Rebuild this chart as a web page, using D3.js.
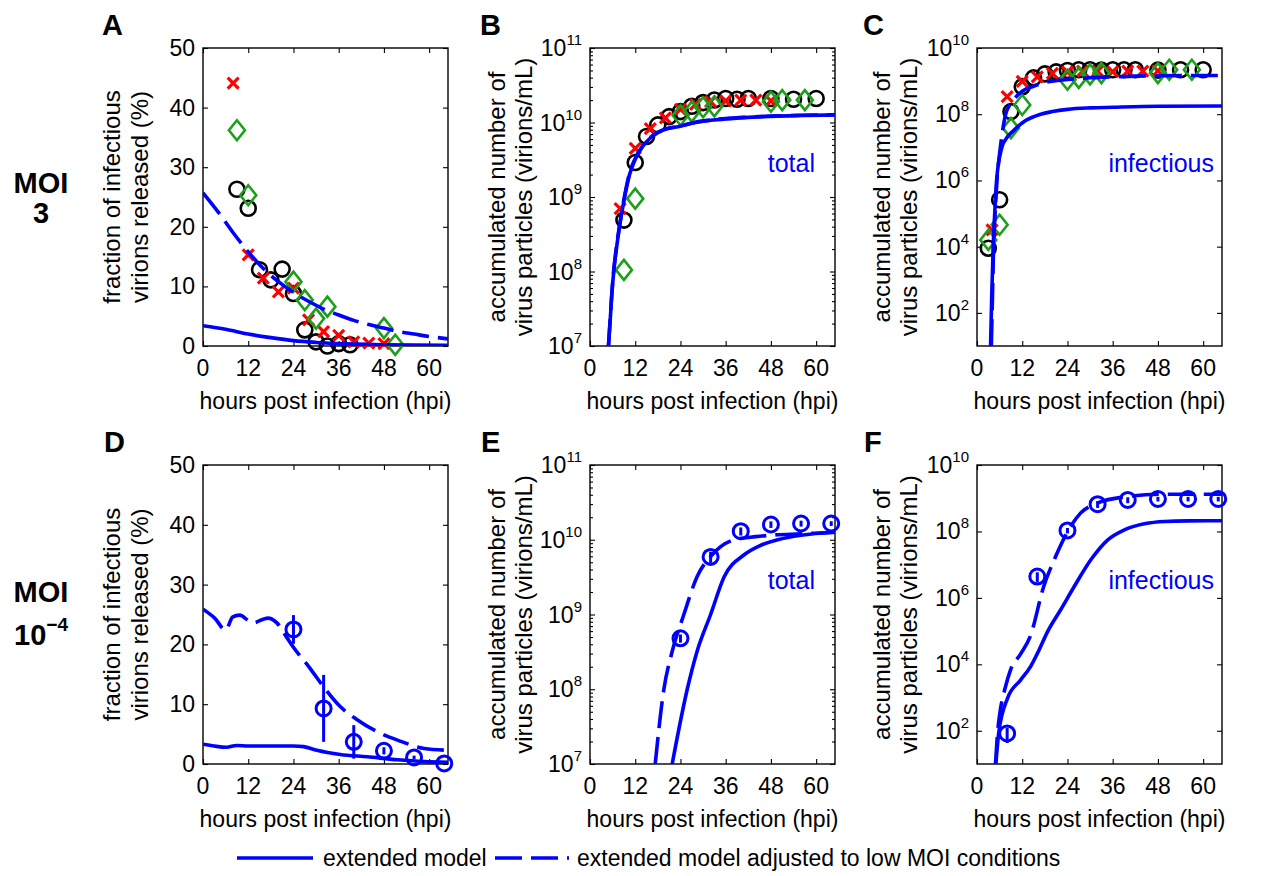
<!DOCTYPE html>
<html>
<head>
<meta charset="utf-8">
<script src="https://cdn.jsdelivr.net/npm/d3@7"></script>
<style>
  body { margin: 0; background: #fff; }
  svg text { font-family: "Liberation Sans", Arial, Helvetica, sans-serif; fill: #000; }
</style>
</head>
<body>
<script>
// shared ticks
var hourTicks = [0, 12, 24, 36, 48, 60];
var pctTicks = [0, 10, 20, 30, 40, 50];
var totalTicks = [1e7, 1e8, 1e9, 1e10, 1e11];
var infTicks = [1e2, 1e4, 1e6, 1e8, 1e10];

// panel A (MOI 3, fraction infectious, %)
var aCircleHours = [9, 12, 15, 18, 21, 24, 27, 30, 33, 36, 39];
var aCircleValues = [26.3, 23.1, 12.8, 11.1, 12.9, 8.8, 2.7, 0.7, 0.0, 0.4, 0.2];
var aCrossHours = [8, 12, 16, 20, 24, 28, 32, 36, 40, 44, 48];
var aCrossValues = [44.1, 15.3, 11.4, 9.1, 9.7, 4.4, 2.4, 1.8, 0.7, 0.5, 0.4];
var aDiamondHours = [9, 12, 24, 27, 30, 33, 48, 51];
var aDiamondValues = [36.2, 25.3, 10.8, 7.7, 4.6, 6.6, 3.0, 0.2];
var aSolidHours = [0, 6, 12, 18, 24, 30, 36, 48, 65];
var aSolidValues = [3.4, 2.8, 2.0, 1.4, 0.9, 0.6, 0.4, 0.2, 0.1];
var aDashHours = [0, 4, 8, 12, 16, 20, 24, 28, 32, 36, 40, 44, 48, 52, 56, 60, 65];
var aDashValues = [25.7, 22.5, 19.0, 15.8, 13.0, 10.8, 9.0, 7.5, 6.2, 5.2, 4.3, 3.6, 3.0, 2.4, 2.0, 1.6, 1.2];

// panel B (MOI 3, total particles)
var bCircleHours = [9, 12, 15, 18, 21, 24, 27, 30, 33, 36, 39, 42, 48, 54, 60];
var bCircleValues = [4.9e8, 2.9e9, 6.5e9, 9.3e9, 1.2e10, 1.4e10, 1.65e10, 1.85e10, 2.0e10, 2.1e10, 2.05e10, 2.1e10, 2.1e10, 2.05e10, 2.1e10];
var bCrossHours = [8, 12, 16, 20, 24, 28, 32, 36, 40, 44, 48];
var bCrossValues = [7e8, 4.5e9, 8.3e9, 1.15e10, 1.5e10, 1.75e10, 1.9e10, 1.95e10, 2.0e10, 2.0e10, 1.95e10];
var bDiamondHours = [9, 12, 24, 27, 30, 33, 48, 51, 57];
var bDiamondValues = [1.05e8, 9.5e8, 1.25e10, 1.4e10, 1.6e10, 1.65e10, 1.9e10, 2.0e10, 2.0e10];
var bSolidHours = [4.9, 5.3, 5.8, 6.3, 7, 8, 9.2, 10.5, 12, 14, 16, 18, 20, 24, 28, 32, 36, 42, 48, 56, 65];
var bSolidValues = [1e7, 2e7, 5e7, 1e8, 2e8, 4.5e8, 1e9, 2e9, 3.2e9, 4.8e9, 6.2e9, 7.3e9, 8.1e9, 8.9e9, 1.0e10, 1.07e10, 1.12e10, 1.17e10, 1.21e10, 1.24e10, 1.26e10];
var bDashHours = [4.9, 5.3, 5.8, 6.3, 7, 8, 9.2, 10.5, 12, 14, 16, 18, 20, 24, 28, 32, 36, 42, 48, 56, 65];
var bDashValues = [1e7, 2.1e7, 5.2e7, 1.05e8, 2.1e8, 4.7e8, 1.05e9, 2.1e9, 3.3e9, 4.9e9, 6.3e9, 7.4e9, 8.2e9, 9.0e9, 1.01e10, 1.08e10, 1.13e10, 1.18e10, 1.22e10, 1.25e10, 1.27e10];

// panel C (MOI 3, infectious particles)
var cCircleHours = [3, 6, 9, 12, 15, 18, 21, 24, 27, 30, 33, 36, 39, 42, 48, 54, 60];
var cCircleValues = [9e3, 2.6e5, 1.2e8, 6.8e8, 1.25e9, 1.65e9, 1.9e9, 2.1e9, 2.2e9, 2.2e9, 2.15e9, 2.2e9, 2.2e9, 2.2e9, 2.15e9, 2.2e9, 2.2e9];
var cCrossHours = [4, 8, 12, 16, 20, 24, 28, 32, 36, 40, 44, 48];
var cCrossValues = [3.2e4, 3.4e8, 9.8e8, 1.35e9, 1.7e9, 1.9e9, 2.0e9, 2.0e9, 1.95e9, 2.0e9, 2.0e9, 2.05e9];
var cDiamondHours = [3, 6, 9, 12, 24, 27, 30, 33, 48, 51, 57];
var cDiamondValues = [1.6e4, 4.6e4, 3.8e7, 1.9e8, 1.1e9, 1.25e9, 1.6e9, 1.75e9, 1.75e9, 2.2e9, 2.2e9];
var cSolidHours = [3.6, 3.9, 4.3, 4.7, 5.2, 6.6, 8, 9.7, 12.8, 16.9, 20, 24, 30, 36, 48, 65];
var cSolidValues = [1e1, 3e2, 1e4, 1e5, 1e6, 1e7, 2e7, 3.2e7, 6.3e7, 1e8, 1.2e8, 1.4e8, 1.55e8, 1.62e8, 1.74e8, 1.78e8];
var cDashHours = [3.8, 4.1, 4.4, 4.8, 5.3, 6.2, 7.6, 8.8, 10.2, 12, 15, 18, 24, 30, 36, 48, 65];
var cDashValues = [1e1, 3e2, 1e4, 1e5, 1e6, 1e7, 1e8, 2e8, 3.2e8, 5e8, 7e8, 9e8, 1.12e9, 1.26e9, 1.35e9, 1.45e9, 1.48e9];

// panel D (MOI 1e-4, fraction infectious, %)
var dCircleHours = [24, 32, 40, 48, 56, 64];
var dCircleValues = [22.5, 9.3, 3.7, 2.2, 1.1, 0.1];
var dCircleErrors = [2.4, 5.6, 2.8, 0.6, 0.3, 0.2];
var dSolidHours = [0, 3, 6.2, 9, 12, 18, 24, 26.7, 30.2, 36.4, 43.6, 51.6, 58.7, 65];
var dSolidValues = [3.3, 3.0, 2.8, 3.1, 3.0, 3.0, 3.0, 2.9, 2.3, 1.6, 1.2, 0.7, 0.4, 0.3];
var dDashHours = [0, 3.1, 6, 7.9, 9.7, 13.2, 17.2, 19.6, 22.1, 23.9, 28.4, 32, 36.4, 40.9, 46.2, 51.6, 58.7, 65];
var dDashValues = [25.9, 24.4, 22.4, 24.6, 24.9, 23.6, 24.4, 23.6, 21.3, 19.6, 16.0, 12.9, 9.6, 7.4, 5.4, 4.0, 2.6, 2.3];

// panel E (MOI 1e-4, total particles)
var eCircleHours = [24, 32, 40, 48, 56, 64];
var eCircleValues = [4.8e8, 5.9e9, 1.3e10, 1.6e10, 1.65e10, 1.65e10];
var eCircleErrors = [6e7, 1.0e9, 1.6e9, 1.6e9, 1.5e9, 1.2e9];
var eSolidHours = [21.8, 25.8, 28.4, 32, 35.6, 40.9, 45, 49.8, 56, 65];
var eSolidValues = [1e7, 1e8, 3.2e8, 1e9, 3.2e9, 6.3e9, 8.3e9, 1e10, 1.15e10, 1.26e10];
var eDashHours = [17.3, 19.6, 21.8, 24.9, 28.4, 32.4, 38.2, 44, 48, 56, 65];
var eDashValues = [1e7, 1e8, 3.2e8, 1e9, 3.2e9, 6.3e9, 1e10, 1.1e10, 1.15e10, 1.2e10, 1.26e10];

// panel F (MOI 1e-4, infectious particles)
var fCircleHours = [8, 16, 24, 32, 40, 48, 56, 64];
var fCircleValues = [83, 4.4e6, 1.07e8, 6.6e8, 8.9e8, 9.5e8, 9.5e8, 9.5e8];
var fCircleErrors = [40, 1.5e6, 2e7, 1.5e8, 1.8e8, 1.5e8, 1.5e8, 1.5e8];
var fSolidHours = [5.0, 5.8, 8.1, 11.6, 14.2, 16, 18.7, 22.2, 25.8, 30.2, 34.7, 39.1, 44.4, 49.8, 56, 65];
var fSolidValues = [1e1, 9.3e1, 9.5e2, 3.4e3, 8.5e3, 2.1e4, 9.5e4, 4.4e5, 2.2e6, 1.4e7, 5.6e7, 1.12e8, 1.7e8, 2.0e8, 2.08e8, 2.1e8];
var fDashHours = [4.9, 5.5, 6.2, 7.5, 8.9, 11.5, 14.1, 17.7, 20.8, 24.2, 27.4, 31.9, 39.8, 49.5, 65];
var fDashValues = [1e1, 1e2, 4.3e2, 2e3, 6.8e3, 2e4, 6.8e4, 2.2e6, 1.7e7, 1.07e8, 3.5e8, 7.1e8, 1.12e9, 1.32e9, 1.32e9];

var blue = '#0000ff';
var red = '#ff0000';
var green = '#1ca01c';
var dash = '27,9';

var svg = d3.select('body').append('svg')
  .attr('width', 1261)
  .attr('height', 876);

function zip(hours, values, errors) {
  return hours.map(function (h, i) {
    return { h: h, v: values[i], e: errors ? errors[i] : 0 };
  });
}

// draw one panel with axes, curves and markers
function drawPanel(p) {
  var width = 245;
  var g = svg.append('g');

  var x = d3.scaleLinear().domain([0, 65]).range([p.left, p.left + width]);
  var y = p.log
    ? d3.scaleLog().domain(p.yDomain).range([p.bottom, p.top])
    : d3.scaleLinear().domain(p.yDomain).range([p.bottom, p.top]);

  var clipId = 'clip' + p.id;
  g.append('clipPath').attr('id', clipId)
    .append('rect')
    .attr('x', p.left).attr('y', p.top)
    .attr('width', width).attr('height', p.bottom - p.top);

  function noDomain(sel) {
    sel.select('.domain').remove();
    sel.selectAll('line').attr('stroke-width', 1.1);
  }

  // inward ticks on all four sides
  g.append('g').attr('transform', 'translate(0,' + p.bottom + ')')
    .call(d3.axisBottom(x).tickValues(hourTicks).tickSize(-5).tickFormat(''))
    .call(noDomain);
  g.append('g').attr('transform', 'translate(0,' + p.top + ')')
    .call(d3.axisTop(x).tickValues(hourTicks).tickSize(-5).tickFormat(''))
    .call(noDomain);
  g.append('g').attr('transform', 'translate(' + p.left + ',0)')
    .call(d3.axisLeft(y).tickValues(p.yTicks).tickSize(-5).tickFormat(''))
    .call(noDomain);
  g.append('g').attr('transform', 'translate(' + (p.left + width) + ',0)')
    .call(d3.axisRight(y).tickValues(p.yTicks).tickSize(-5).tickFormat(''))
    .call(noDomain);

  if (p.minor) {
    var minors = [];
    for (var e = 7; e < 11; e++) {
      for (var m = 2; m < 10; m++) minors.push(m * Math.pow(10, e));
    }
    g.append('g').attr('transform', 'translate(' + p.left + ',0)')
      .call(d3.axisLeft(y).tickValues(minors).tickSize(-3).tickFormat(''))
      .call(noDomain);
    g.append('g').attr('transform', 'translate(' + (p.left + width) + ',0)')
      .call(d3.axisRight(y).tickValues(minors).tickSize(-3).tickFormat(''))
      .call(noDomain);
  }

  g.append('rect')
    .attr('x', p.left).attr('y', p.top)
    .attr('width', width).attr('height', p.bottom - p.top)
    .attr('fill', 'none').attr('stroke', '#000').attr('stroke-width', 1.4);

  // tick labels
  g.selectAll('.xt').data(hourTicks).enter().append('text')
    .attr('x', function (d) { return x(d); })
    .attr('y', p.bottom + 30)
    .attr('text-anchor', 'middle')
    .attr('font-size', 23)
    .text(function (d) { return d; });

  var yt = g.selectAll('.yt').data(p.yTicks).enter().append('text')
    .attr('x', p.left - 8)
    .attr('y', function (d) { return y(d) + 8; })
    .attr('text-anchor', 'end')
    .attr('font-size', 23);
  if (p.log) {
    yt.append('tspan').text('10');
    yt.append('tspan')
      .attr('dy', -11)
      .attr('font-size', 15)
      .text(function (d) { return Math.round(Math.log10(d)); });
  } else {
    yt.text(function (d) { return d; });
  }

  // axis labels
  g.append('text')
    .attr('x', p.left + width / 2)
    .attr('y', p.bottom + 63)
    .attr('text-anchor', 'middle')
    .attr('font-size', 23)
    .text('hours post infection (hpi)');

  p.yLabel.forEach(function (line, i) {
    g.append('text')
      .attr('transform', 'translate(' + p.yLabelX[i] + ',' + ((p.top + p.bottom) / 2) + ') rotate(-90)')
      .attr('text-anchor', 'middle')
      .attr('font-size', 24)
      .text(line);
  });

  g.append('text')
    .attr('x', p.letterX)
    .attr('y', p.top - 13)
    .attr('font-size', 29)
    .attr('font-weight', 'bold')
    .text(p.id);

  if (p.note) {
    g.append('text')
      .attr('x', p.noteX)
      .attr('y', p.top + 124)
      .attr('text-anchor', 'end')
      .attr('font-size', 25)
      .style('fill', blue)
      .text(p.note);
  }

  // markers
  var marks = g.append('g');
  (p.circles || []).forEach(function (d) {
    marks.append('circle')
      .attr('cx', x(d.h)).attr('cy', y(d.v)).attr('r', 7.5)
      .attr('fill', 'none').attr('stroke', '#000').attr('stroke-width', 2.6);
  });
  (p.crosses || []).forEach(function (d) {
    marks.append('path')
      .attr('transform', 'translate(' + x(d.h) + ',' + y(d.v) + ')')
      .attr('d', 'M-5.5,-5.5L5.5,5.5M-5.5,5.5L5.5,-5.5')
      .attr('stroke', red).attr('stroke-width', 3.2);
  });
  (p.diamonds || []).forEach(function (d) {
    marks.append('path')
      .attr('transform', 'translate(' + x(d.h) + ',' + y(d.v) + ')')
      .attr('d', 'M0,-10L8,0L0,10L-8,0Z')
      .attr('fill', 'none').attr('stroke', green).attr('stroke-width', 2.6);
  });

  var line = d3.line()
    .x(function (d) { return x(d.h); })
    .y(function (d) { return y(d.v); })
    .curve(d3.curveMonotoneX);

  var curves = g.append('g').attr('clip-path', 'url(#' + clipId + ')');
  curves.append('path').datum(p.solid)
    .attr('d', line)
    .attr('fill', 'none').attr('stroke', blue).attr('stroke-width', 3.6);
  curves.append('path').datum(p.dashed)
    .attr('d', line)
    .attr('fill', 'none').attr('stroke', blue).attr('stroke-width', 3.6)
    .attr('stroke-dasharray', dash);

  // blue data with error bars (low MOI)
  (p.blueCircles || []).forEach(function (d) {
    var lo = p.log ? Math.max(d.v - d.e, p.yDomain[0]) : Math.max(d.v - d.e, 0);
    marks.append('line')
      .attr('x1', x(d.h)).attr('x2', x(d.h))
      .attr('y1', y(lo)).attr('y2', y(d.v + d.e))
      .attr('stroke', blue).attr('stroke-width', 3);
    marks.append('circle')
      .attr('cx', x(d.h)).attr('cy', y(d.v)).attr('r', 7.5)
      .attr('fill', 'none').attr('stroke', blue).attr('stroke-width', 3);
  });
}

var pctLabel = ['fraction of infectious', 'virions released (%)'];
var countLabel = ['accumulated number of', 'virus particles (virions/mL)'];

drawPanel({
  id: 'A', left: 203, top: 48, bottom: 346, log: false,
  yDomain: [0, 50], yTicks: pctTicks, yLabel: pctLabel, yLabelX: [120, 148], letterX: 102,
  circles: zip(aCircleHours, aCircleValues),
  crosses: zip(aCrossHours, aCrossValues),
  diamonds: zip(aDiamondHours, aDiamondValues),
  solid: zip(aSolidHours, aSolidValues),
  dashed: zip(aDashHours, aDashValues)
});
drawPanel({
  id: 'B', left: 590, top: 48, bottom: 346, log: true, minor: true,
  yDomain: [1e7, 1e11], yTicks: totalTicks, yLabel: countLabel, yLabelX: [505, 532], letterX: 480,
  note: 'total', noteX: 815,
  circles: zip(bCircleHours, bCircleValues),
  crosses: zip(bCrossHours, bCrossValues),
  diamonds: zip(bDiamondHours, bDiamondValues),
  solid: zip(bSolidHours, bSolidValues),
  dashed: zip(bDashHours, bDashValues)
});
drawPanel({
  id: 'C', left: 977, top: 48, bottom: 346, log: true,
  yDomain: [1e1, 1e10], yTicks: infTicks, yLabel: countLabel, yLabelX: [890, 917], letterX: 863,
  note: 'infectious', noteX: 1214,
  circles: zip(cCircleHours, cCircleValues),
  crosses: zip(cCrossHours, cCrossValues),
  diamonds: zip(cDiamondHours, cDiamondValues),
  solid: zip(cSolidHours, cSolidValues),
  dashed: zip(cDashHours, cDashValues)
});
drawPanel({
  id: 'D', left: 203, top: 465, bottom: 764, log: false,
  yDomain: [0, 50], yTicks: pctTicks, yLabel: pctLabel, yLabelX: [120, 148], letterX: 104,
  blueCircles: zip(dCircleHours, dCircleValues, dCircleErrors),
  solid: zip(dSolidHours, dSolidValues),
  dashed: zip(dDashHours, dDashValues)
});
drawPanel({
  id: 'E', left: 590, top: 465, bottom: 764, log: true, minor: true,
  yDomain: [1e7, 1e11], yTicks: totalTicks, yLabel: countLabel, yLabelX: [505, 532], letterX: 481,
  note: 'total', noteX: 815,
  blueCircles: zip(eCircleHours, eCircleValues, eCircleErrors),
  solid: zip(eSolidHours, eSolidValues),
  dashed: zip(eDashHours, eDashValues)
});
drawPanel({
  id: 'F', left: 977, top: 465, bottom: 764, log: true,
  yDomain: [1e1, 1e10], yTicks: infTicks, yLabel: countLabel, yLabelX: [890, 917], letterX: 864,
  note: 'infectious', noteX: 1214,
  blueCircles: zip(fCircleHours, fCircleValues, fCircleErrors),
  solid: zip(fSolidHours, fSolidValues),
  dashed: zip(fDashHours, fDashValues)
});

// row labels
function rowLabel(yTop, gap, second, sup) {
  svg.append('text').attr('x', 41).attr('y', yTop)
    .attr('text-anchor', 'middle').attr('font-size', 29).attr('font-weight', 'bold')
    .text('MOI');
  var t = svg.append('text').attr('x', 41).attr('y', yTop + gap)
    .attr('text-anchor', 'middle').attr('font-size', 29).attr('font-weight', 'bold');
  t.append('tspan').text(second);
  if (sup) {
    t.append('tspan').attr('dy', -14).attr('font-size', 19).text(sup);
  }
}
rowLabel(193, 30, '3');
rowLabel(602, 43, '10', '\u22124');

// legend
var legY = 858;
svg.append('line')
  .attr('x1', 237).attr('x2', 313).attr('y1', legY).attr('y2', legY)
  .attr('stroke', blue).attr('stroke-width', 3.6);
svg.append('text').attr('x', 323).attr('y', legY + 8)
  .attr('font-size', 23).text('extended model');
svg.append('line')
  .attr('x1', 495).attr('x2', 569).attr('y1', legY).attr('y2', legY)
  .attr('stroke', blue).attr('stroke-width', 3.6)
  .attr('stroke-dasharray', dash);
svg.append('text').attr('x', 577).attr('y', legY + 8)
  .attr('font-size', 23).text('extended model adjusted to low MOI conditions');
</script>
</body>
</html>
